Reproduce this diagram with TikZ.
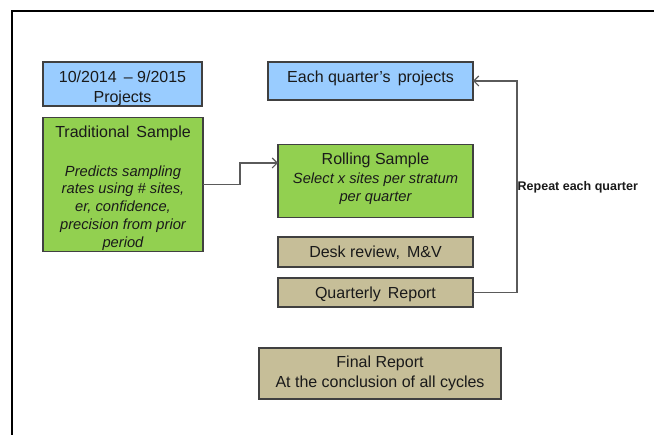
\documentclass[tikz,border=0pt]{standalone}
\usepackage{fontspec}
\setmainfont{Liberation Sans}
\usetikzlibrary{arrows.meta}
\definecolor{bluefill}{HTML}{99CCFF}
\definecolor{greenfill}{HTML}{92D050}
\definecolor{tanfill}{HTML}{C6BE98}
\definecolor{boxline}{HTML}{404040}
\definecolor{connc}{HTML}{5A5A5A}
\definecolor{txtc}{HTML}{1A1A1A}
\tikzset{
  box/.style={draw=boxline, line width=1.1pt, rectangle, inner sep=0pt, outer sep=0pt},
  txt/.style={font=\fontsize{16}{20}\selectfont, align=center, inner sep=0pt, text=txtc},
  itl/.style={font=\itshape\fontsize{14.7}{17.8}\selectfont, align=center, inner sep=0pt, text=txtc},
  lbl/.style={font=\bfseries\fontsize{12.5}{15}\selectfont, inner sep=0.5pt, text=txtc},
  conn/.style={draw=connc, line width=1.1pt},
  tip/.style={-{Straight Barb[length=5pt,width=10pt,line width=1.1pt]}}
}
\begin{document}
\begin{tikzpicture}[x=1pt,y=-1pt]
\useasboundingbox (0,0) rectangle (654,435);
% frame
\draw[line width=1.6pt, black] (12,435) -- (12,11) -- (654,11);

% left column
\node[box, fill=bluefill, minimum width=159pt, minimum height=44pt] (proj) at (122.5,84) {};
\node[txt] (projT) at (122.5,88) {10/2014 \,– 9/2015\\Projects};

\node[box, fill=greenfill, minimum width=160pt, minimum height=134pt] (trad) at (123,184.5) {};
\node[txt] (tradT) at (123,133.5) {Traditional \,Sample};
\node[itl] (tradI) at (123,208) {Predicts sampling\\rates using \# sites,\\er, confidence,\\precision from prior\\period};

% right column
\node[box, fill=bluefill, minimum width=205pt, minimum height=38pt] (each) at (370.5,81) {};
\node[txt] (eachT) at (370.5,78.5) {Each quarter’s \,projects};

\node[box, fill=greenfill, minimum width=195pt, minimum height=73pt] (roll) at (375.5,181) {};
\node[txt] (rollT) at (375.5,160.5) {Rolling Sample};
\node[itl] (rollI) at (375.5,188.5) {Select x sites per stratum\\per quarter};

\node[box, fill=tanfill, minimum width=195pt, minimum height=30pt] (desk) at (375.5,252) {};
\node[txt] (deskT) at (375.5,253) {Desk review, \,M\&V};
\node[box, fill=tanfill, minimum width=195pt, minimum height=29pt] (qr) at (375.5,292.5) {};
\node[txt] (qrT) at (375.5,294.5) {Quarterly \,Report};

\node[box, fill=tanfill, minimum width=242pt, minimum height=51pt] (final) at (380,373.5) {};
\node[txt] (finalT) at (380,373.5) {Final Report\\At the conclusion of all cycles};

% connectors
\coordinate (c1) at (240,184.5);
\coordinate (c2) at (240,163);
\draw[conn, tip] (trad.east) -- (c1) -- (c2) -- (roll.west |- c2);

\coordinate (r1) at (517,292.5);
\coordinate (r2) at (517,81);
\draw[conn, tip] (qr.east) -- (r1) -- (r2) -- (each.east);

\node[lbl, anchor=west] (rep) at (517,187) {Repeat each quarter};
\end{tikzpicture}
\end{document}
